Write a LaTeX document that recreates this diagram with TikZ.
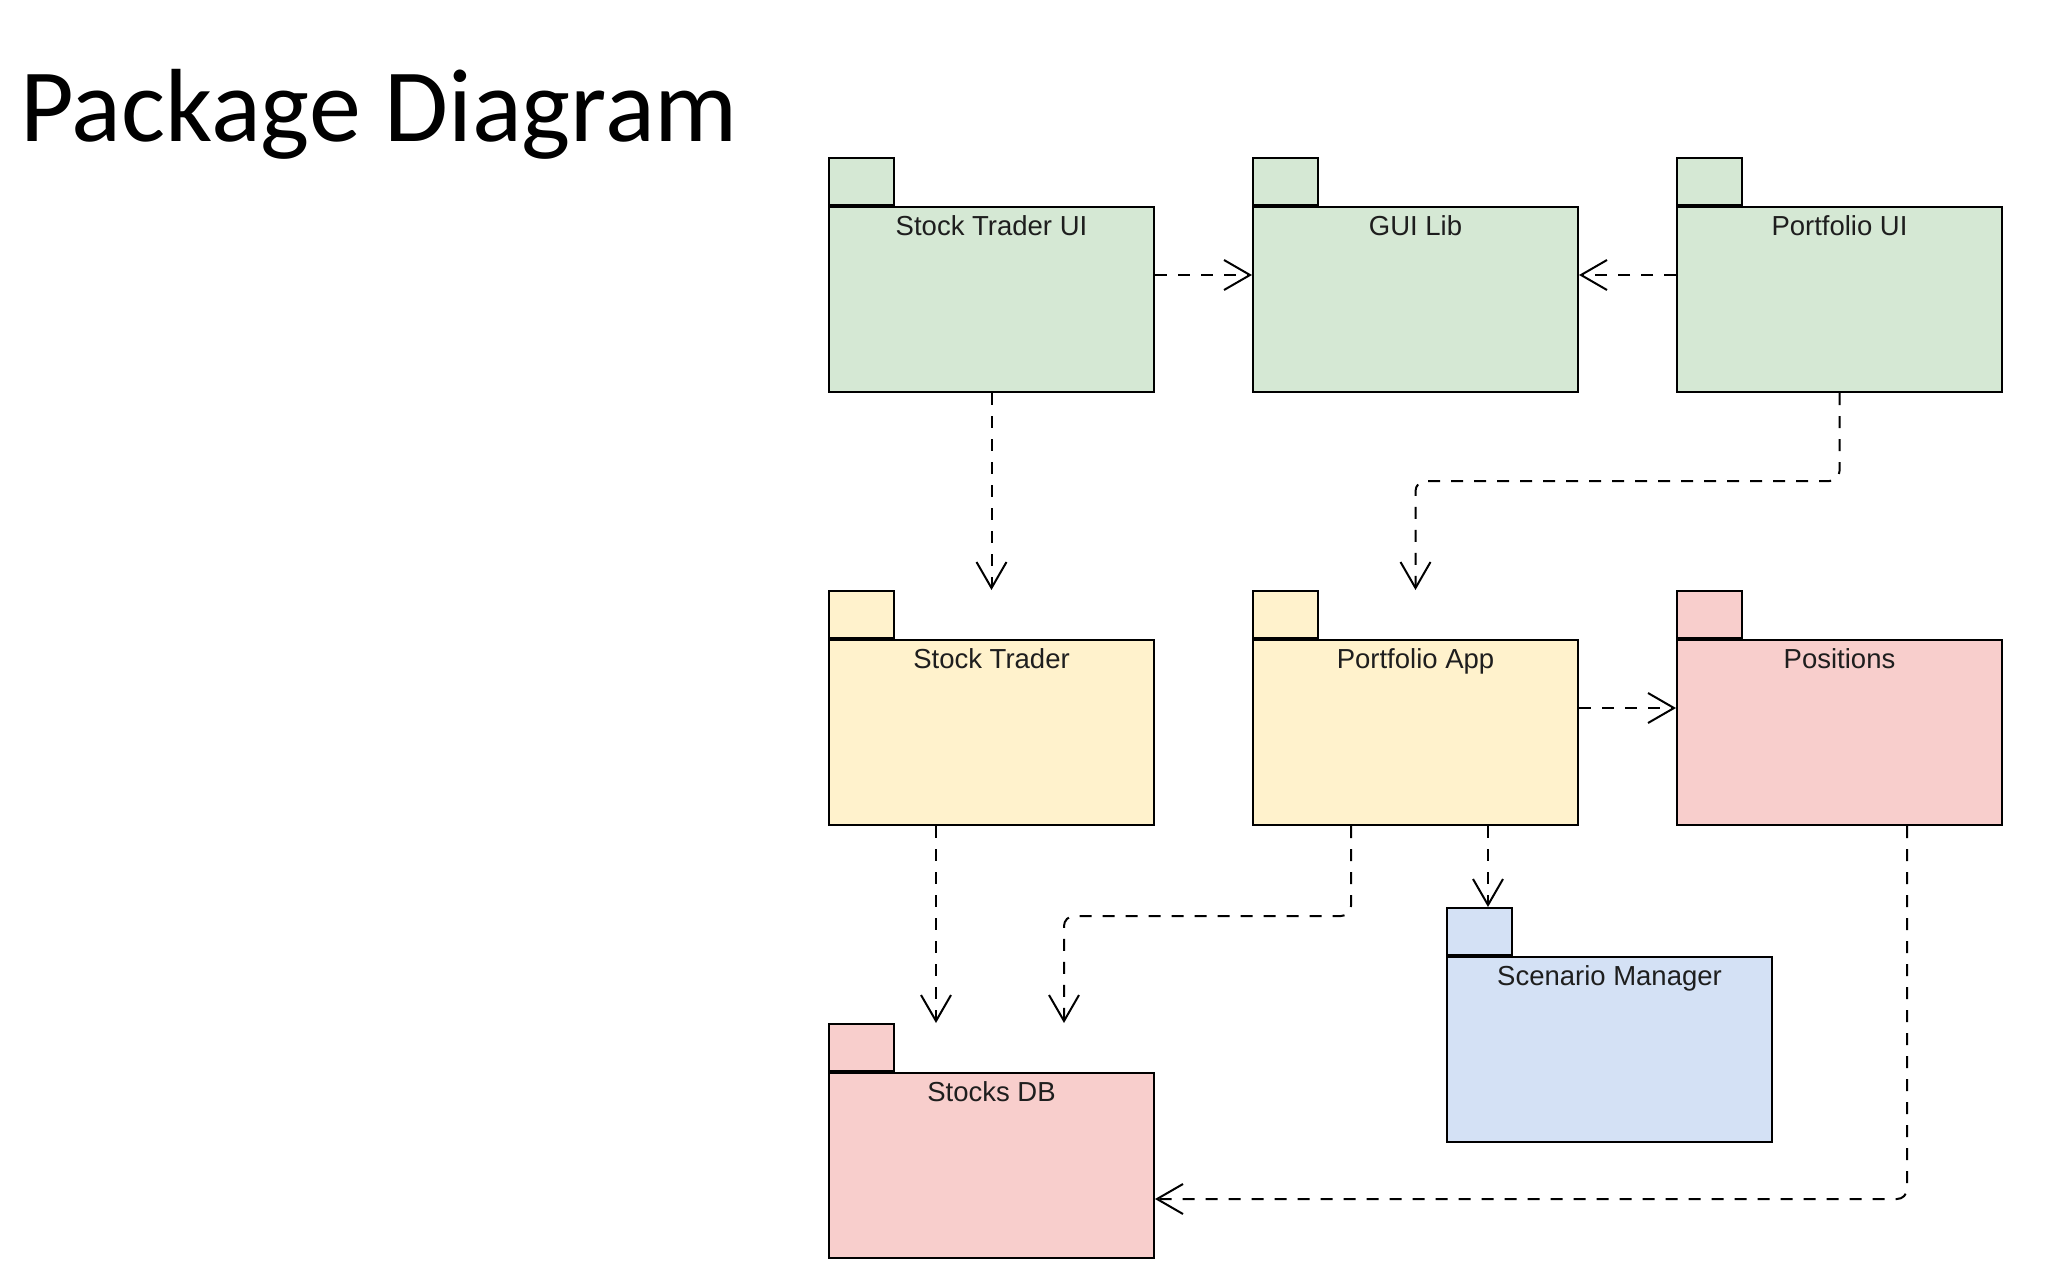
\documentclass[tikz,border=0pt]{standalone}
\usepackage{fontspec}
\usetikzlibrary{arrows.meta,calc}
\newfontfamily\titlefont{Carlito}
\newfontfamily\lblfont{Liberation Sans}
\definecolor{pkggreen}{HTML}{D5E8D4}
\definecolor{pkgyellow}{HTML}{FFF2CC}
\definecolor{pkgred}{HTML}{F8CECC}
\definecolor{pkgblue}{HTML}{D4E1F5}
\definecolor{txt}{HTML}{1E1E1E}
\tikzset{
  pkgbody/.style={draw=black, line width=2pt, rectangle, inner sep=0pt,
    minimum width=325pt, minimum height=185pt, anchor=north west},
  pkgtab/.style={draw=black, line width=2pt, rectangle, inner sep=0pt,
    minimum width=65pt, minimum height=47pt, anchor=south west},
  pkglbl/.style={anchor=base, inner sep=0pt, text=txt,
    font=\lblfont\fontsize{27.5pt}{32pt}\selectfont},
  dep/.style={line width=2pt, dash pattern=on 12pt off 11pt,
    -{Straight Barb[length=26pt,width=30pt,line width=2pt]}},
}
\newcommand{\mkpkg}[5]{% name, x, y(body top), colour, label
  \node[pkgbody, fill=#4] (#1) at (#2,#3) {};
  \node[pkgtab, fill=#4] (#1T) at (#1.north west) {};
  \node[pkglbl] (#1L) at ($(#1.north)+(0,-29pt)$) {#5};
}
\begin{document}
\begin{tikzpicture}[x=1pt,y=-1pt]
\useasboundingbox (0,0) rectangle (2048,1280);
\node[anchor=base west, inner sep=0pt, text=black,
  font=\titlefont\fontsize{104pt}{120pt}\selectfont] (title) at (20,141) {Package Diagram};

\mkpkg{stui}{828}{206}{pkggreen}{Stock Trader UI}
\mkpkg{gui}{1252}{206}{pkggreen}{GUI Lib}
\mkpkg{pui}{1676}{206}{pkggreen}{Portfolio UI}
\mkpkg{st}{828}{639}{pkgyellow}{Stock Trader}
\mkpkg{pa}{1252}{639}{pkgyellow}{Portfolio App}
\mkpkg{pos}{1676}{639}{pkgred}{Positions}
\mkpkg{sdb}{828}{1072}{pkgred}{Stocks DB}
\mkpkg{sc}{1446}{956}{pkgblue}{Scenario Manager}

% connectors
\draw[dep] ($(stui.north east)+(0,69)$) -- ($(gui.north west)+(0,69)$);
\draw[dep] ($(pui.north west)+(0,69)$) -- ($(gui.north east)+(0,69)$);
\draw[dep] (stui.south) -- (stui.south |- stT.north);
\draw[dep, rounded corners=10pt] (pui.south) -- ++(0,88) -| (pa.south |- paT.north);
\draw[dep] ($(pa.north east)+(0,69)$) -- ($(pos.north west)+(0,69)$);
\draw[dep] ($(st.south west)+(108,0)$) -- ($(sdbT.north west)+(108,0)$);
\draw[dep, rounded corners=10pt] ($(pa.south west)+(99,0)$) -- ++(0,90) -| ($(sdbT.north west)+(236,0)$);
\coordinate (scin) at ($(scT.north west)+(42,0)$);
\draw[dep] (pa.south west -| scin) -- (scin);
\draw[dep, rounded corners=10pt] ($(pos.south west)+(231,0)$) |- ($(sdb.north east)+(0,127)$);
\end{tikzpicture}
\end{document}
